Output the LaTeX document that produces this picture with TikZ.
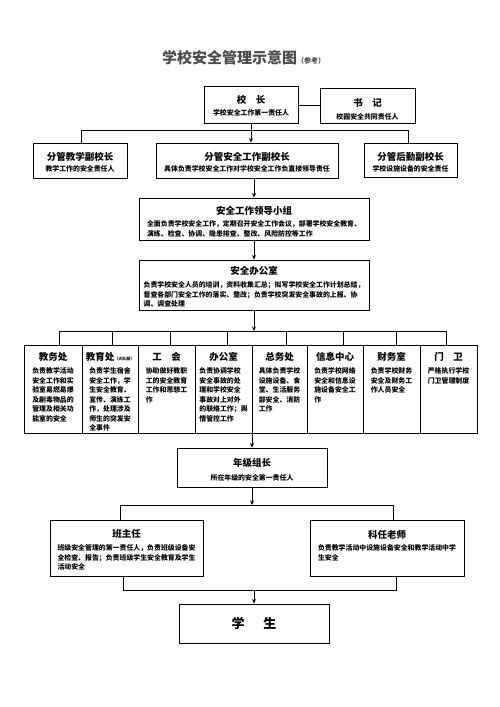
\documentclass[tikz,border=0pt]{standalone}
\usepackage{fontspec}
\newfontfamily\cjk{Noto Sans CJK SC}
\usetikzlibrary{arrows.meta}
\tikzset{
  box/.style={draw, line width=0.9pt, inner sep=0pt},
  hd/.style={font={\cjk\bfseries\fontsize{9.5}{11}\selectfont}, inner sep=0pt},
  bd/.style={font={\cjk\bfseries\fontsize{6.9}{9.5}\selectfont}, inner sep=0pt, align=left},
  ln/.style={line width=0.8pt},
  arr/.style={-{Stealth[length=4.5pt,width=4pt]}}
}
\begin{document}
\begin{tikzpicture}[x=1pt,y=-1pt]
\useasboundingbox[fill=white] (0,0) rectangle (499,707);
% title
\node[anchor=west, inner sep=0pt, text=black!70, font={\cjk\bfseries\fontsize{15}{17}\selectfont}] (title) at (162,58)
  {学校安全管理示意图{\fontsize{7}{8}\selectfont （参考）}};
% top
\node[box, minimum width=94pt, minimum height=37pt] (xz) at (251,104.5) {};
\node[box, minimum width=95pt, minimum height=35pt] (sj) at (367.5,105.5) {};
\node[hd] (xzh) at (251,100) {校\hspace{1em}长};
\node[bd] (xzb) at (251,113) {学校安全工作第一责任人};
\node[hd] (sjh) at (367.5,103) {书\hspace{1em}记};
\node[bd] (sjb) at (367.5,117) {校园安全共同责任人};
% second row
\node[box, minimum width=94pt, minimum height=35pt] (fj) at (80,160.5) {};
\node[box, minimum width=182pt, minimum height=35pt] (fa) at (247,160.5) {};
\node[box, minimum width=93pt, minimum height=34pt] (fh) at (410.5,160) {};
\node[hd] (fjh) at (80,157) {分管教学副校长};
\node[bd] (fjb) at (80,169) {教学工作的安全责任人};
\node[hd] (fah) at (247,157) {分管安全工作副校长};
\node[bd] (fab) at (247,169) {具体负责学校安全工作对学校安全工作负直接领导责任};
\node[hd] (fhh) at (410.5,157) {分管后勤副校长};
\node[bd] (fhb) at (410.5,169) {学校设施设备的安全责任};
% leading group
\node[box, minimum width=230pt, minimum height=42pt] (ld) at (254,219) {};
\node[hd] (ldh) at (254,211) {安全工作领导小组};
\node[bd, anchor=north] (ldb) at (254,220.5) {全面负责学校安全工作，定期召开安全工作会议，部署学校安全教育、\\演练、检查、协调、隐患排查、整改、风险防控等工作};
% office
\node[box, minimum width=230pt, minimum height=50pt] (ab) at (254,285) {};
\node[hd] (abh) at (254,271) {安全办公室};
\node[bd, anchor=north] (abb) at (254,281.5) {负责学校安全人员的培训，资料收集汇总；拟写学校安全工作计划总结，\\督查各部门安全工作的落实、整改；负责学校突发安全事故的上报、协\\调、调查处理};
% row of departments
\foreach \i/\cx/\w in {1/53/58,2/110/56,3/166.5/57,4/223.5/57,5/279.5/55,6/335/56,7/391.5/57,8/448.5/57}
  \node[box, minimum width=\w pt, minimum height=88pt] (r\i) at (\cx,389) {};
\node[hd] (r1h) at (r1 |- 0,357) {教务处};
\node[hd] (r2h) at (r2 |- 0,357) {教育处{\fontsize{4}{5}\selectfont （大队部）}};
\node[hd] (r3h) at (r3 |- 0,357) {工\hspace{1em}会};
\node[hd] (r4h) at (r4 |- 0,357) {办公室};
\node[hd] (r5h) at (r5 |- 0,357) {总务处};
\node[hd] (r6h) at (r6 |- 0,357) {信息中心};
\node[hd] (r7h) at (r7 |- 0,357) {财务室};
\node[hd] (r8h) at (r8 |- 0,357) {门\hspace{1em}卫};
\node[bd, anchor=north] (r1b) at (r1 |- 0,367.5) {负责教学活动\\安全工作和实\\验室易燃易爆\\及剧毒物品的\\管理及相关功\\能室的安全};
\node[bd, anchor=north] (r2b) at (r2 |- 0,367.5) {负责学生宿舍\\安全工作，学\\生安全教育、\\宣传、演练工\\作，处理涉及\\师生的突发安\\全事件};
\node[bd, anchor=north] (r3b) at (r3 |- 0,367.5) {协助做好教职\\工的安全教育\\工作和思想工\\作};
\node[bd, anchor=north] (r4b) at (r4 |- 0,367.5) {负责协调学校\\安全事故的处\\理和学校安全\\事故对上对外\\的联络工作；舆\\情管控工作};
\node[bd, anchor=north] (r5b) at (r5 |- 0,367.5) {具体负责学校\\设施设备、食\\堂、生活服务\\部安全、消防\\工作};
\node[bd, anchor=north] (r6b) at (r6 |- 0,367.5) {负责学校网络\\安全和信息设\\施设备安全工\\作};
\node[bd, anchor=north] (r7b) at (r7 |- 0,367.5) {负责学校财务\\安全及财务工\\作人员安全};
\node[bd, anchor=north] (r8b) at (r8 |- 0,367.5) {严格执行学校\\门卫管理制度};
% grade leader
\node[box, minimum width=150pt, minimum height=39pt] (nj) at (252,467.5) {};
\node[hd] (njh) at (252,463) {年级组长};
\node[bd] (njb) at (252,478) {所在年级的安全第一责任人};
% teachers
\node[box, minimum width=153pt, minimum height=56pt] (bz) at (126.5,548) {};
\node[box, minimum width=154pt, minimum height=56pt] (kr) at (387,548) {};
\node[hd] (bzh) at (126.5,534) {班主任};
\node[bd, anchor=north] (bzb) at (126.5,544.5) {班级安全管理的第一责任人，负责班级设备安\\全检查、报告；负责班级学生安全教育及学生\\活动安全};
\node[hd] (krh) at (387,535) {科任老师};
\node[bd, anchor=north] (krb) at (387,544.5) {负责教学活动中设施设备安全和教学活动中学\\生安全};
% students
\node[box, minimum width=150pt, minimum height=39pt] (xs) at (254,623.5) {};
\node[inner sep=0pt, font={\cjk\bfseries\fontsize{13}{15}\selectfont}] (xst) at (254,623.5) {学\hspace{19pt}生};
% connectors
\draw[ln] (xz.east |- 0,105) -- (sj.west |- 0,105);
\draw[ln,arr] (xz.south) -- (xz.south |- fa.north);
\draw[ln] (fj.north -| 81,0) |- (408,130) -- (fh.north -| 408,0);
\draw[ln,arr] (ld.north |- fa.south) -- (ld.north);
\draw[ln,arr] (ld.south) -- (ab.north);
\draw[ln,arr] (ab.south) -- (ab.south |- 0,331);
\draw[ln] (r1.north -| 59,0) |- (446,331) -- (r8.north -| 446,0);
\foreach \i/\x in {2/112,3/170,4/227,5/286,6/343,7/396}
  \draw[ln] (\x,331) -- (r\i.north -| \x,0);
\draw[ln,arr] (nj.north |- r4.south) -- (nj.north);
\draw[ln,arr] (nj.south) -- (nj.south |- 0,505);
\draw[ln] (bz.north -| 120,0) |- (393,505) -- (kr.north -| 393,0);
\draw[ln] (bz.south -| 123,0) |- (396,590) -- (kr.south -| 396,0);
\draw[ln,arr] (xs.north |- 0,590) -- (xs.north);
\end{tikzpicture}
\end{document}
